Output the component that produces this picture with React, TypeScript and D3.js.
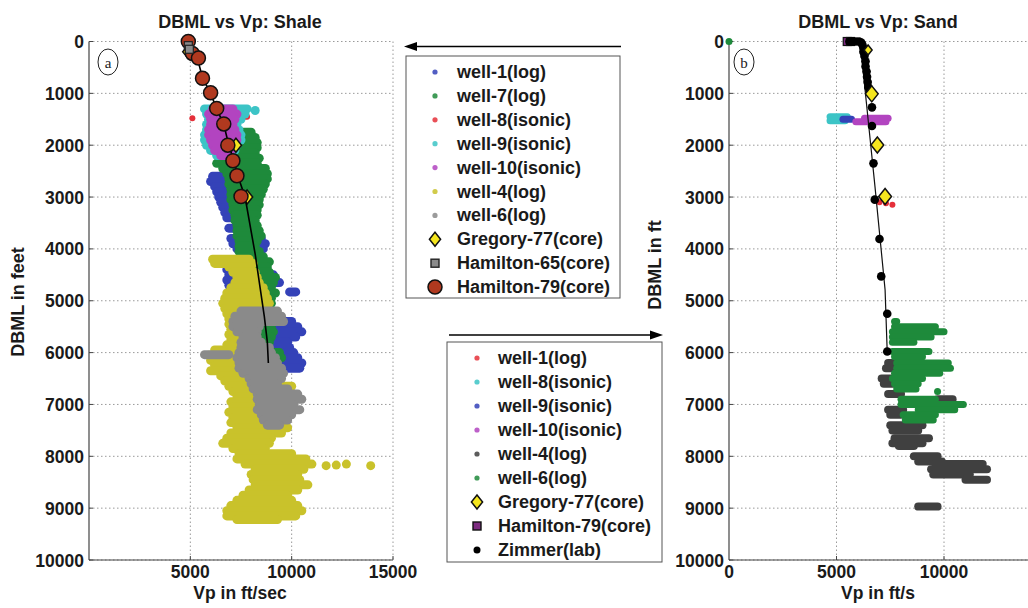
import React from "react";
import * as d3 from "d3";

type Row = [number, number, number]; // depth ft, Vp min, Vp max
type Pt = [number, number]; // depth ft, Vp

// ---------- ticks ----------
const depthTicks = [0, 1000, 2000, 3000, 4000, 5000, 6000, 7000, 8000, 9000, 10000];
const shaleVpTicks = [5000, 10000, 15000];
const sandVpTicks = [0, 5000, 10000];
const sandGridTicks = [5000, 10000, 15000];

// ---------- colours ----------
const C = {
  blue: "#3442b8",
  green: "#1e8a3b",
  red: "#e5303a",
  cyan: "#3cc4c6",
  magenta: "#b244c0",
  yellow: "#c9c22b",
  grey: "#8a8a8a",
  dark: "#404040",
  brown: "#b0391f",
  purple: "#7d2b80",
  gold: "#f5e61e",
};

// ---------- Shale (a) ----------
const shaleWell1: Row[] = [
  [2600, 6100, 6900], [2700, 6000, 7000], [2800, 6200, 7100], [2900, 6300, 7000], [3000, 6400, 7000],
  [3100, 6500, 7000], [3200, 6600, 7200], [3300, 6700, 7300], [3400, 6800, 7300], [3600, 6900, 7400],
  [3800, 7000, 8500], [3900, 7100, 8700], [4000, 7300, 8600], [4400, 6800, 7500], [4500, 6900, 7600],
  [4600, 6800, 7400], [4700, 6900, 7300], [4800, 7000, 7400], [4500, 8300, 9100], [4650, 8400, 9400],
  [4850, 8500, 9000], [4830, 9900, 10200], [5400, 9000, 10000], [5500, 9200, 10300], [5600, 9000, 10500],
  [5700, 9300, 10200], [5800, 9100, 9800], [5900, 9300, 9900], [6000, 9200, 10100], [6100, 9300, 10300],
  [6200, 9400, 10500], [6300, 9600, 10400],
];
const shaleWell7: Row[] = [
  [1750, 7400, 8000], [1850, 7300, 8200], [1950, 7300, 8300], [2050, 7200, 8300], [2150, 7000, 8200],
  [2250, 6500, 8400], [2350, 6300, 8300], [2450, 6600, 8700], [2550, 6800, 8800], [2650, 6900, 8800],
  [2750, 6900, 8700], [2850, 7000, 8600], [2950, 7000, 8500], [3050, 7000, 8400], [3150, 7100, 8400],
  [3250, 7100, 8300], [3350, 7200, 8300], [3450, 7200, 8200], [3550, 7300, 8300], [3650, 7300, 8400],
  [3750, 7300, 8500], [3850, 7400, 8300], [3950, 7400, 8200], [4050, 7400, 8400], [4150, 7500, 8600],
  [4250, 7800, 8900], [4350, 8000, 8800], [4450, 8100, 8900], [4550, 8200, 9200], [4650, 8300, 9100],
  [4750, 8400, 9000], [4850, 8300, 9200], [4950, 8400, 9000], [5050, 8500, 9000], [5500, 8300, 9000],
  [5600, 8200, 9100], [5700, 8200, 9000], [5800, 8400, 8900], [6000, 8900, 9400], [6100, 8900, 9500],
  [6200, 8900, 9300], [6500, 8800, 9000],
];
const shaleWell8: Row[] = [[1480, 5100, 5100], [1320, 6300, 6500], [1450, 7700, 7800]];
const shaleWell9: Row[] = [
  [1300, 5700, 7800], [1400, 5800, 7700], [1500, 5900, 7500], [1600, 5800, 7300], [1700, 5800, 7400],
  [1800, 5700, 7500], [1900, 5700, 7500], [2000, 5800, 7300], [2100, 6000, 7200], [2200, 6300, 7000],
  [1330, 8200, 8200],
];
const shaleWell10: Row[] = [
  [1300, 6100, 7100], [1400, 5900, 7300], [1500, 6000, 7200], [1600, 6000, 7100], [1700, 5900, 7200],
  [1800, 5900, 7300], [1900, 6000, 7300], [2000, 6100, 7200], [2100, 6200, 7000], [2200, 6500, 6900],
];
const shaleWell4: Row[] = [
  [4200, 6100, 7900], [4280, 6200, 8100], [4350, 6900, 8000], [4450, 7100, 8200], [4550, 7300, 8300],
  [4650, 7200, 8400], [4750, 7000, 8600], [4850, 6800, 8700], [4950, 6700, 8800], [5050, 6600, 8900],
  [5150, 6700, 8600], [5250, 6800, 7800], [5350, 6900, 7600], [5450, 6900, 7400], [5550, 7000, 7300],
  [5650, 6900, 7400], [5750, 7000, 7500], [5850, 6800, 7500], [5950, 6200, 7500], [6050, 5900, 7400],
  [6150, 6000, 7600], [6250, 6200, 7800], [6350, 6000, 7700], [6450, 6500, 7900], [6550, 6700, 8100],
  [6650, 6900, 10000], [6750, 7100, 8400], [6850, 7300, 8400], [6950, 7000, 8500], [7050, 7100, 8600],
  [7150, 6900, 8600], [7250, 7100, 8500], [7350, 7000, 9500], [7450, 7300, 9800], [7550, 7000, 9500],
  [7650, 6800, 9000], [7750, 6600, 8900], [7850, 7100, 8700], [7950, 7400, 10000], [8050, 7300, 10700],
  [8150, 7700, 11000], [8250, 8200, 10600], [8350, 8000, 10300], [8450, 8100, 10400], [8550, 8200, 10800],
  [8650, 7900, 10300], [8750, 7600, 9800], [8850, 7300, 10000], [8950, 7000, 10300], [9050, 6800, 10500],
  [9150, 6800, 10200], [9220, 7300, 9300],
  [8180, 11700, 11700], [8170, 12200, 12200], [8150, 12700, 12700], [8180, 13900, 13900],
];
const shaleWell6: Row[] = [
  [5200, 7500, 9300], [5300, 7200, 9500], [5400, 7100, 9600], [5500, 7100, 8400], [5600, 7300, 8300],
  [5700, 7600, 8300], [5800, 7500, 8500], [5900, 7500, 8900], [6000, 7400, 9000], [6100, 7300, 9200],
  [6200, 7400, 9300], [6300, 7400, 9500], [6400, 7600, 9600], [6500, 7900, 9500], [6600, 8000, 9300],
  [6700, 8100, 9800], [6800, 8300, 10300], [6900, 8300, 10500], [7000, 8400, 10100], [7100, 8300, 10400],
  [7200, 8500, 10000], [7300, 8600, 9800], [7400, 8800, 9400], [6040, 5700, 6900],
];
const shaleGregory: Pt[] = [[200, 4900], [2000, 7250], [3000, 7800]];
const shaleHamilton65: Pt[] = [[80, 4900], [150, 4950]];
const shaleHamilton79: Pt[] = [
  [0, 4900], [230, 5100], [320, 5400], [710, 5600], [990, 6000], [1290, 6300],
  [1590, 6650], [2000, 6850], [2300, 7100], [2590, 7300], [2990, 7500],
];
const shaleTrend: Pt[] = [
  [0, 4900], [250, 5300], [700, 5600], [1000, 6000], [1300, 6300], [1600, 6650], [2000, 6900],
  [2300, 7150], [2600, 7350], [3000, 7700], [4100, 8200], [5300, 8650], [5800, 8800], [6200, 8850],
];

// ---------- Sand (b) ----------
const sandWell1: Row[] = [[3100, 7000, 7000], [3120, 7300, 7300], [3150, 7600, 7600]];
const sandWell8: Row[] = [[1450, 4700, 5500], [1530, 4700, 5400]];
const sandWell9: Row[] = [[1500, 5300, 5700]];
const sandWell10: Row[] = [[1480, 6300, 7400], [1550, 5900, 7300]];
const sandWell4: Row[] = [
  [6200, 7400, 8200], [6300, 7300, 8100], [6500, 7100, 7800], [6600, 7200, 7700], [6800, 7400, 8000],
  [6900, 9700, 10400], [7100, 7400, 8100], [7200, 7500, 8000], [7400, 7500, 9000], [7500, 7600, 8800],
  [7650, 7700, 9300], [7750, 7600, 9000], [7800, 7900, 8600], [8000, 8600, 9700], [8100, 8800, 9900],
  [8150, 9600, 11800], [8250, 9400, 12000], [8350, 9500, 11200], [8450, 11000, 12000], [8970, 8800, 9700],
];
const sandWell6: Row[] = [
  [0, 0, 0], [5400, 7700, 7800], [5500, 7700, 9600], [5600, 7600, 10000], [5700, 7600, 9400],
  [5800, 7600, 8600], [5980, 7600, 9300], [6080, 7700, 9000], [6200, 7800, 10200], [6300, 7800, 10300],
  [6400, 7700, 9800], [6500, 7600, 9000], [6600, 7700, 8800], [6700, 7800, 8700], [6750, 9700, 9700],
  [6900, 8000, 9600], [7000, 8000, 10900], [7100, 8800, 10500], [7200, 8100, 9600], [7300, 8200, 9500],
];
const sandGregory: Pt[] = [[165, 6470], [1010, 6640], [1995, 6900], [2990, 7260]];
const sandHamilton79: Pt[] = [[0, 5500], [0, 5650]];
const sandZimmer: Pt[] = [
  [0, 5600], [0, 5750], [0, 5900], [0, 6050], [20, 6150], [60, 6200], [120, 6250], [200, 6250],
  [280, 6300], [380, 6350], [480, 6350], [580, 6400], [680, 6420], [780, 6450], [880, 6480],
  [960, 6550], [1270, 6650], [1630, 6650], [2350, 6720], [3050, 6780], [3810, 7000], [4530, 7080],
  [5250, 7360], [5980, 7360],
];
const sandTrend: Pt[] = [[0, 6050], [290, 6170], [2800, 6790], [4790, 7260], [6000, 7360]];

// ---------- legends ----------
const shaleLegend = [
  "well-1(log)", "well-7(log)", "well-8(isonic)", "well-9(isonic)", "well-10(isonic)",
  "well-4(log)", "well-6(log)", "Gregory-77(core)", "Hamilton-65(core)", "Hamilton-79(core)",
];
const sandLegend = [
  "well-1(log)", "well-8(isonic)", "well-9(isonic)", "well-10(isonic)", "well-4(log)",
  "well-6(log)", "Gregory-77(core)", "Hamilton-79(core)", "Zimmer(lab)",
];

const FONT = "'Liberation Sans', Arial, Helvetica, sans-serif";

const yScale = d3.scaleLinear().domain([0, 10000]).range([41.5, 560]);
const xShale = d3.scaleLinear().domain([0, 15000]).range([89, 393]);
const xSand = d3.scaleLinear().domain([0, 15000]).range([729, 1051.5]);

function Cloud({ rows, color, x, w }: { rows: Row[]; color: string; x: d3.ScaleLinear<number, number>; w: number }) {
  return (
    <g stroke={color} strokeWidth={w} strokeLinecap="round">
      {rows.map((r, i) => (
        <line key={i} x1={x(r[1])} x2={x(r[2])} y1={yScale(r[0])} y2={yScale(r[0])} />
      ))}
    </g>
  );
}

function Diamond({ cx, cy, r }: { cx: number; cy: number; r: number }) {
  return (
    <path
      d={`M${cx},${cy - r}L${cx + r * 0.8},${cy}L${cx},${cy + r}L${cx - r * 0.8},${cy}Z`}
      fill={C.gold}
      stroke="#111"
      strokeWidth={1.5}
    />
  );
}

function Axes({ x, xTicks, gridX, title, titleX, ylabel, ylabelY, xlabel, tag, tagX, yLabelX, tickRight }: any) {
  const [x0, x1] = x.range();
  const right = Math.min(x1, 1028);
  return (
    <g fontFamily={FONT}>
      {/* grid */}
      <g stroke="#9a9a9a" strokeWidth={1} strokeDasharray="1.5,2.5">
        {depthTicks.map((t) => (
          <line key={"h" + t} x1={x0} x2={right} y1={yScale(t)} y2={yScale(t)} />
        ))}
        {gridX.map((t: number) => (
          <line key={"v" + t} x1={x(t)} x2={x(t)} y1={yScale(0)} y2={yScale(10000)} />
        ))}
      </g>
      {/* axes */}
      <line x1={x0} x2={x0} y1={yScale(0)} y2={yScale(10000)} stroke="#444" strokeWidth={1.2} />
      <line x1={x0} x2={right} y1={yScale(10000)} y2={yScale(10000)} stroke="#444" strokeWidth={1.2} />
      {depthTicks.map((t) => (
        <line key={"yt" + t} x1={x0} x2={x0 + 4} y1={yScale(t)} y2={yScale(t)} stroke="#444" />
      ))}
      {gridX.map((t: number) => (
        <line key={"xt" + t} x1={x(t)} x2={x(t)} y1={yScale(10000)} y2={yScale(10000) - 4} stroke="#444" />
      ))}
      {/* tick labels */}
      <g fontSize={17.5} fontWeight="bold" fill="#1a1a1a">
        {depthTicks.map((t) => (
          <text key={"yl" + t} x={tickRight} y={yScale(t) + 6.5} textAnchor="end">
            {t}
          </text>
        ))}
        {xTicks.map((t: number) => (
          <text key={"xl" + t} x={x(t)} y={578} textAnchor="middle">
            {t}
          </text>
        ))}
      </g>
      <text x={titleX} y={28} textAnchor="middle" fontSize={18} fontWeight="bold" fill="#1a1a1a">
        {title}
      </text>
      <text x={titleX} y={599} textAnchor="middle" fontSize={17.5} fontWeight="bold" fill="#1a1a1a">
        {xlabel}
      </text>
      <text
        transform={`translate(${yLabelX},${ylabelY}) rotate(-90)`}
        textAnchor="middle"
        fontSize={18}
        fontWeight="bold"
        fill="#1a1a1a"
      >
        {ylabel}
      </text>
      <ellipse cx={tagX} cy={62} rx={10} ry={13} fill="white" stroke="#222" strokeWidth={1} />
      <text x={tagX} y={67.5} textAnchor="middle" fontSize={15} fontFamily="'Liberation Serif', 'DejaVu Serif', serif" fill="#222">
        {tag}
      </text>
    </g>
  );
}

export default function App() {
  const lineShale = d3
    .line<Pt>()
    .x((d) => xShale(d[1]))
    .y((d) => yScale(d[0]));
  const lineSand = d3
    .line<Pt>()
    .x((d) => xSand(d[1]))
    .y((d) => yScale(d[0]));

  const shaleDotColors = [C.blue, C.green, C.red, C.cyan, C.magenta, C.yellow, C.grey];
  const sandDotColors = [C.red, C.cyan, C.blue, C.magenta, C.dark, C.green];

  return (
    <svg width={1028} height={608} style={{ position: "absolute", left: 0, top: 0, background: "white" }}>
      <rect x={0} y={0} width={1028} height={608} fill="white" />

      {/* ----- Panel a ----- */}
      <Axes
        x={xShale}
        xTicks={shaleVpTicks}
        gridX={shaleVpTicks}
        title="DBML vs Vp: Shale"
        titleX={240}
        ylabel="DBML in feet"
        ylabelY={302}
        yLabelX={24}
        xlabel="Vp in ft/sec"
        tag="a"
        tagX={108}
        tickRight={84}
      />
      <Cloud rows={shaleWell1} color={C.blue} x={xShale} w={9} />
      <Cloud rows={shaleWell7} color={C.green} x={xShale} w={9} />
      <Cloud rows={shaleWell8} color={C.red} x={xShale} w={6} />
      <Cloud rows={shaleWell9} color={C.cyan} x={xShale} w={9} />
      <Cloud rows={shaleWell10} color={C.magenta} x={xShale} w={9} />
      <Cloud rows={shaleWell4} color={C.yellow} x={xShale} w={9} />
      <Cloud rows={shaleWell6} color={C.grey} x={xShale} w={9} />
      {shaleGregory.map((d, i) => (
        <Diamond key={"sg" + i} cx={xShale(d[1])} cy={yScale(d[0])} r={7} />
      ))}
      <path d={lineShale(shaleTrend) || ""} fill="none" stroke="#000" strokeWidth={1.6} />
      {shaleHamilton79.map((d, i) => (
        <circle key={"sh" + i} cx={xShale(d[1])} cy={yScale(d[0])} r={7} fill={C.brown} stroke="#111" strokeWidth={1.5} />
      ))}
      {shaleHamilton65.map((d, i) => (
        <rect key={"s65" + i} x={xShale(d[1]) - 4} y={yScale(d[0]) - 4} width={8} height={8} fill="#8a8a8a" stroke="#222" strokeWidth={1.2} />
      ))}

      {/* ----- Panel b ----- */}
      <Axes
        x={xSand}
        xTicks={sandVpTicks}
        gridX={sandGridTicks}
        title="DBML vs Vp: Sand"
        titleX={878}
        ylabel="DBML in ft"
        ylabelY={265}
        yLabelX={661}
        xlabel="Vp in ft/s"
        tag="b"
        tagX={744}
        tickRight={724}
      />
      <Cloud rows={sandWell1} color={C.red} x={xSand} w={6} />
      <Cloud rows={sandWell8} color={C.cyan} x={xSand} w={7} />
      <Cloud rows={sandWell9} color={C.blue} x={xSand} w={7} />
      <Cloud rows={sandWell10} color={C.magenta} x={xSand} w={7} />
      <Cloud rows={sandWell4} color={C.dark} x={xSand} w={8} />
      <Cloud rows={sandWell6} color={C.green} x={xSand} w={7} />
      {sandHamilton79.map((d, i) => (
        <rect key={"b79" + i} x={xSand(d[1]) - 4} y={yScale(d[0]) - 4} width={8} height={8} fill={C.purple} stroke="#111" strokeWidth={1.2} />
      ))}
      <path d={lineSand(sandTrend) || ""} fill="none" stroke="#111" strokeWidth={1.2} />
      {sandZimmer.map((d, i) => (
        <circle key={"bz" + i} cx={xSand(d[1])} cy={yScale(d[0])} r={4.3} fill="#000" />
      ))}
      {sandGregory.map((d, i) => (
        <Diamond key={"bg" + i} cx={xSand(d[1])} cy={yScale(d[0])} r={i === 0 ? 5 : 8} />
      ))}

      {/* ----- Legend a ----- */}
      <g fontFamily={FONT}>
        <line x1={621} x2={414} y1={46.5} y2={46.5} stroke="#000" strokeWidth={1.6} />
        <path d="M404,46.5L417,42L417,51Z" fill="#000" />
        <rect x={406} y={56} width={214} height={242} fill="white" stroke="#555" strokeWidth={1} />
        {shaleLegend.map((s, i) => {
          const cy = 72 + i * 23.9;
          return (
            <g key={"la" + i}>
              {i < 7 && <circle cx={435} cy={cy} r={2.6} fill={shaleDotColors[i]} opacity={0.85} />}
              {i === 7 && <Diamond cx={435} cy={cy} r={7} />}
              {i === 8 && <rect x={431} y={cy - 4} width={8} height={8} fill="#8a8a8a" stroke="#222" strokeWidth={1.4} />}
              {i === 9 && <circle cx={435} cy={cy} r={7} fill={C.brown} stroke="#111" strokeWidth={1.5} />}
              <text x={457} y={cy + 6} fontSize={18} fontWeight="bold" fill="#1a1a1a">
                {s}
              </text>
            </g>
          );
        })}
      </g>

      {/* ----- Legend b ----- */}
      <g fontFamily={FONT}>
        <line x1={449} x2={652} y1={335} y2={335} stroke="#000" strokeWidth={1.6} />
        <path d="M663,335L650,330.5L650,339.5Z" fill="#000" />
        <rect x={447} y={342} width={215} height={220} fill="white" stroke="#555" strokeWidth={1} />
        {sandLegend.map((s, i) => {
          const cy = 358 + i * 24;
          return (
            <g key={"lb" + i}>
              {i < 6 && <circle cx={477} cy={cy} r={2.6} fill={sandDotColors[i]} opacity={0.85} />}
              {i === 6 && <Diamond cx={477} cy={cy} r={7} />}
              {i === 7 && <rect x={473} y={cy - 4} width={8} height={8} fill={C.purple} stroke="#111" strokeWidth={1.4} />}
              {i === 8 && <circle cx={477} cy={cy} r={3.5} fill="#000" />}
              <text x={498} y={cy + 6} fontSize={18} fontWeight="bold" fill="#1a1a1a">
                {s}
              </text>
            </g>
          );
        })}
      </g>
    </svg>
  );
}
